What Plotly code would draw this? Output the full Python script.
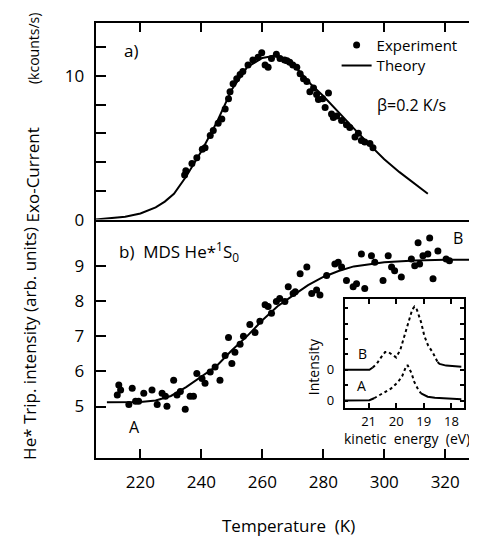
import plotly.graph_objects as go

# panel a) exo-current
exp_T = [234.5, 234.9, 236.9, 238.5, 240.3, 241.2, 242.9, 243.9, 245.5, 246.7, 247.8, 248.9,
         249.4, 250.4, 251.6, 252.7, 253.6, 255.3, 256.9, 258.6, 259.8, 260.9, 261.9, 263.0,
         264.6, 265.8, 267.3, 268.1, 269.0, 270.0, 271.3, 272.4, 273.5, 274.6, 275.6, 276.8,
         277.8, 278.4, 279.8, 280.6, 281.7, 282.7, 283.3, 284.4, 286.0, 287.6, 288.7, 290.4,
         291.5, 292.5, 293.6, 295.3, 296.3]
exp_exo = [3.1, 3.4, 3.9, 4.3, 4.9, 5.0, 5.85, 6.2, 6.7, 7.0, 7.7, 8.4,
           8.9, 9.45, 9.8, 10.1, 10.3, 10.75, 11.1, 11.3, 11.6, 10.75, 10.6, 11.2,
           11.5, 11.2, 11.1, 11.05, 10.95, 10.75, 10.6, 10.15, 9.8, 9.6, 8.9, 9.15,
           8.7, 8.35, 8.4, 7.8, 8.8, 7.35, 7.1, 7.2, 6.9, 6.6, 6.4, 5.75,
           6.0, 5.5, 5.4, 5.3, 5.0]
theo_T = [205.3, 210, 215, 220, 225, 228, 231, 235, 240, 245, 250, 255, 260, 264, 268,
          272, 276, 280, 285, 290, 295, 300, 305, 310, 314.3]
theo_exo = [0.0, 0.08, 0.2, 0.42, 0.85, 1.25, 1.8, 3.0, 4.75, 6.75, 9.05, 10.6, 11.25, 11.4, 11.1,
            10.35, 9.4, 8.6, 7.45, 6.35, 5.25, 4.2, 3.3, 2.5, 1.8]

# panel b) He* triplet intensity
mds_T = [212.9, 213.5, 212.4, 216.2, 217.3, 218.4, 219.4, 221.1, 223.8, 225.5, 227.1, 228.2,
         228.7, 230.9, 232.0, 233.1, 234.7, 236.3, 237.4, 238.5, 240.2, 241.2, 242.9, 244.5,
         246.1, 247.8, 248.9, 250.0, 251.0, 252.7, 253.8, 255.9, 257.6, 259.2, 260.9, 261.9,
         263.0, 264.6, 265.7, 267.4, 268.5, 270.1, 270.8, 272.4, 274.6, 276.2, 277.8, 278.9,
         281.1, 283.8, 284.9, 286.0, 287.6, 289.8, 290.9, 292.5, 293.6, 295.8, 296.9, 299.6,
         301.3, 302.4, 303.4, 305.6, 308.9, 310.0, 311.1, 311.6, 312.7, 314.3, 314.9, 316.0,
         317.6, 320.3, 321.4]
mds_int = [5.61, 5.47, 5.33, 5.06, 5.52, 5.15, 5.15, 5.38, 5.47, 5.06, 5.38, 5.29,
           5.01, 5.75, 5.33, 5.43, 4.92, 5.29, 5.29, 5.94, 5.80, 5.66, 5.98, 6.12,
           5.75, 6.45, 6.96, 6.22, 6.54, 6.77, 7.00, 7.33, 7.10, 7.42, 7.89, 7.84,
           7.65, 7.98, 8.07, 7.98, 8.40, 8.21, 8.26, 8.77, 8.96, 8.21, 8.31, 8.17,
           8.72, 9.05, 9.10, 8.96, 8.58, 8.40, 8.49, 9.33, 8.35, 9.28, 9.10, 8.58,
           9.28, 8.96, 8.86, 8.68, 9.19, 9.00, 9.65, 9.05, 9.28, 9.33, 9.79, 8.63,
           9.42, 9.19, 9.14]
fit_T = [209, 215, 220, 225, 230, 235, 240, 245, 250, 255, 260, 265, 270, 275, 280,
         285, 290, 295, 300, 310, 320, 332.4]
fit_int = [5.12, 5.12, 5.13, 5.17, 5.3, 5.55, 5.85, 6.15, 6.6, 7.0, 7.45, 7.85, 8.15, 8.45, 8.68,
           8.85, 8.98, 9.05, 9.1, 9.15, 9.17, 9.17]

# inset spectra
B_E = [21.87, 21.3, 20.97, 20.85, 20.7, 20.55, 20.4, 20.3, 20.15, 20.0, 19.85, 19.7, 19.55,
       19.42, 19.34, 19.25, 19.1, 18.98, 18.85, 18.67, 18.5, 18.43, 18.19, 17.9, 17.64]
B_I = [2.0, 2.0, 2.0, 2.15, 2.4, 2.8, 3.15, 3.17, 3.0, 2.8, 3.3, 4.2, 5.2,
       5.9, 6.1, 5.9, 5.1, 4.2, 3.6, 3.1, 2.5, 2.38, 2.27, 2.25, 2.2]
A_E = [21.87, 21.3, 20.97, 20.8, 20.6, 20.4, 20.18, 19.93, 19.78, 19.63, 19.58, 19.45,
       19.34, 19.2, 19.1, 18.86, 18.6, 18.31, 17.9, 17.64]
A_I = [0.0, 0.0, 0.02, 0.15, 0.36, 0.6, 0.79, 1.21, 1.6, 2.28, 2.28, 1.8,
       1.2, 0.7, 0.47, 0.25, 0.18, 0.15, 0.12, 0.08]

W, H = 477, 537
FONT = "Open Sans"


def px(x):
    return x / W


def py(y):
    return 1 - y / H


fig = go.Figure()

fig.add_trace(go.Scatter(x=exp_T, y=exp_exo, mode="markers", name="Experiment",
                         marker=dict(color="black", size=7), xaxis="x", yaxis="y",
                         legend="legend"))
fig.add_trace(go.Scatter(x=theo_T, y=theo_exo, mode="lines", name="Theory",
                         line=dict(color="black", width=2), xaxis="x", yaxis="y",
                         legend="legend2"))

fig.add_trace(go.Scatter(x=mds_T, y=mds_int, mode="markers", showlegend=False,
                         marker=dict(color="black", size=7), xaxis="x2", yaxis="y2"))
fig.add_trace(go.Scatter(x=fit_T, y=fit_int, mode="lines", showlegend=False,
                         line=dict(color="black", width=2), xaxis="x2", yaxis="y2"))

# inset: solid baselines, dotted peaks
for E, I, a, b in [(B_E, B_I, 3, -4), (A_E, A_I, 3, -5)]:
    fig.add_trace(go.Scatter(x=E[:a + 1], y=I[:a + 1], mode="lines", showlegend=False,
                             line=dict(color="black", width=2), xaxis="x3", yaxis="y3"))
    fig.add_trace(go.Scatter(x=E[a:b], y=I[a:b], mode="lines", showlegend=False,
                             line=dict(color="black", width=2, dash="dot"), xaxis="x3", yaxis="y3"))
    fig.add_trace(go.Scatter(x=E[b - 1:], y=I[b - 1:], mode="lines", showlegend=False,
                             line=dict(color="black", width=2), xaxis="x3", yaxis="y3"))

xdom = [px(88), 1.0]
tick_font = dict(family=FONT, size=17, color="black")
axis_common = dict(showline=True, linecolor="black", linewidth=2, ticks="inside",
                   tickcolor="black", tickwidth=2, showgrid=False, zeroline=False)
inset_common = dict(showline=True, linecolor="black", linewidth=1.5, ticks="inside",
                    tickcolor="black", tickwidth=1.5, showgrid=False, zeroline=False,
                    mirror="ticks", tickfont=dict(family=FONT, size=13, color="black"))
leg_common = dict(xanchor="left", yanchor="middle", bgcolor="rgba(0,0,0,0)",
                  font=dict(family=FONT, size=15, color="black"), itemwidth=30)

fig.update_layout(
    width=W, height=H,
    margin=dict(l=0, r=0, t=0, b=0),
    paper_bgcolor="white", plot_bgcolor="white",
    font=dict(family=FONT, size=16, color="black"),
    xaxis=dict(domain=xdom, range=[205.3, 332.4], anchor="y", side="top", mirror=True,
               tickvals=[220, 240, 260, 280, 300, 320], ticklen=9, showticklabels=False,
               **axis_common),
    yaxis=dict(domain=[py(216), py(15)], range=[0, 13.7], anchor="x", mirror="ticks",
               tickvals=[0, 2, 4, 6, 8, 10, 12], ticktext=["0", "", "", "", "", "10", ""],
               ticklen=10, tickfont=tick_font, ticklabelstandoff=6, **axis_common),
    xaxis2=dict(domain=xdom, range=[205.3, 332.4], anchor="y2", mirror=False,
                tickvals=[220, 240, 260, 280, 300, 320], ticklen=9, tickfont=tick_font,
                ticklabelstandoff=8, **axis_common),
    yaxis2=dict(domain=[py(459), py(216)], range=[3.55, 10.31], anchor="x2", mirror="ticks",
                tickvals=[5, 6, 7, 8, 9], ticklen=10, tickfont=tick_font,
                ticklabelstandoff=6, **axis_common),
    xaxis3=dict(domain=[px(338), px(458)], range=[21.87, 17.54], anchor="y3",
                tickvals=[21, 20, 19, 18], ticklen=5, ticklabelstandoff=1, **inset_common),
    yaxis3=dict(domain=[py(408), py(297)], range=[-0.46, 6.6], anchor="x3",
                tickvals=[0, 1, 2, 3, 4, 5, 6], ticktext=["0", "", "0", "", "", "", ""],
                ticklen=4, ticklabelstandoff=6, **inset_common),
    legend=dict(x=px(330), y=py(38), **leg_common),
    legend2=dict(x=px(330), y=py(59), **leg_common),
)

ann = [
    dict(text="a)", x=px(114), y=py(43), xanchor="left", size=17),
    dict(text="\u03b2=0.2 K/s", x=px(369), y=py(99), xanchor="left", size=16),
    dict(text="b)\u00a0\u00a0MDS He*<sup>1</sup>S<sub>0</sub>", x=px(109), y=py(249),
         xanchor="left", size=17),
    dict(text="A", x=px(127), y=py(428), size=16),
    dict(text="B", x=px(452), y=py(235), size=16),
    dict(text="B", x=px(356), y=py(353), size=14),
    dict(text="A", x=px(355), y=py(385), size=14),
    dict(text="kinetic\u00a0\u00a0energy\u00a0\u00a0(eV)", x=px(401), y=py(440), size=14),
    dict(text="Intensity", x=px(307), y=py(366), size=14, textangle=-90),
    dict(text="Temperature\u00a0\u00a0(K)", x=px(282), y=py(528), size=17),
    dict(text="Exo-Current", x=px(25), y=py(170), size=17, textangle=-90),
    dict(text="(kcounts/s)", x=px(25), y=py(41), size=14, textangle=-90),
    dict(text="He* Trip. intensity (arb. units)", x=px(22), y=py(342), size=17, textangle=-90),
]
for a in ann:
    fig.add_annotation(text=a["text"], x=a["x"], y=a["y"], xref="paper", yref="paper",
                       xanchor=a.get("xanchor", "center"), yanchor="middle",
                       textangle=a.get("textangle", 0), showarrow=False,
                       font=dict(family=FONT, size=a["size"], color="black"))

fig.write_html("out.html")
